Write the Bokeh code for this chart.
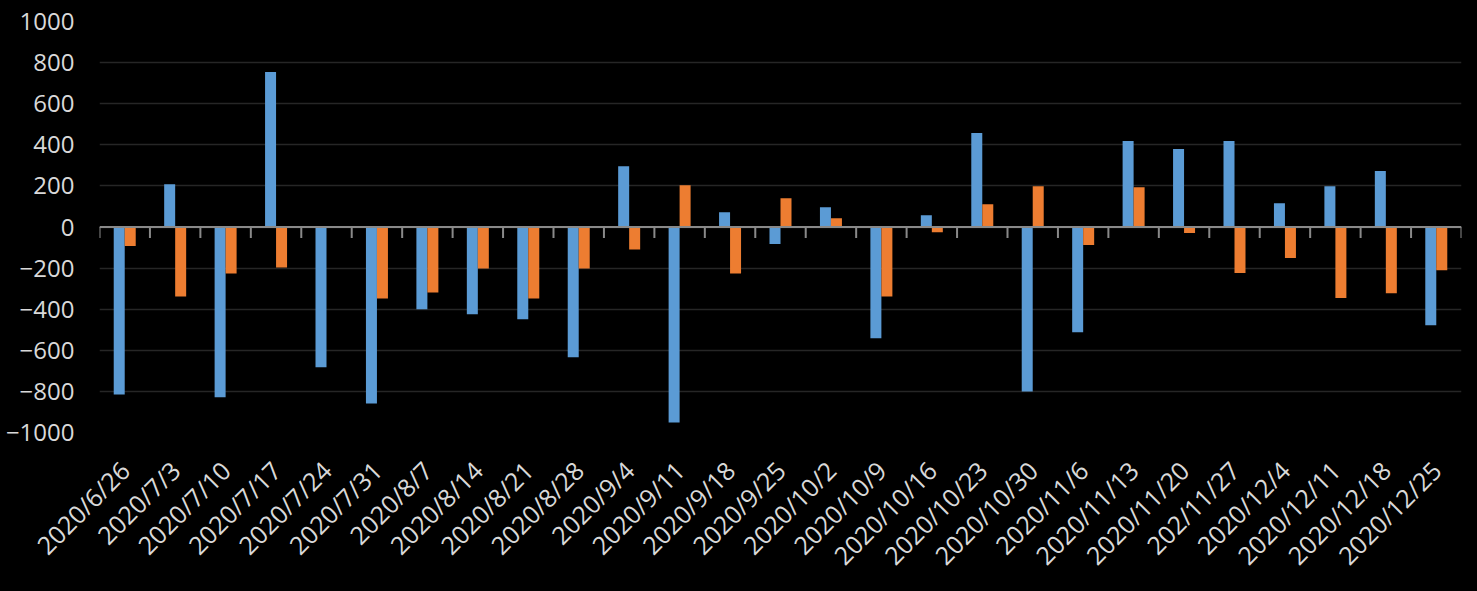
from math import pi

from bokeh.plotting import figure
from bokeh.models import ColumnDataSource, Range1d, FixedTicker, Span
from bokeh.transform import dodge
from bokeh.embed import file_html
from bokeh.resources import INLINE

categories = [
    "2020/6/26", "2020/7/3", "2020/7/10", "2020/7/17", "2020/7/24", "2020/7/31",
    "2020/8/7", "2020/8/14", "2020/8/21", "2020/8/28", "2020/9/4", "2020/9/11",
    "2020/9/18", "2020/9/25", "2020/10/2", "2020/10/9", "2020/10/16", "2020/10/23",
    "2020/10/30", "2020/11/6", "2020/11/13", "2020/11/20", "202/11/27", "2020/12/4",
    "2020/12/11", "2020/12/18", "2020/12/25",
]
series1 = [
    -815, 208, -829, 754, -683, -859,
    -400, -424, -449, -634, 296, -951,
    72, -83, 96, -541, 57, 457,
    -800, -512, 418, 379, 418, 115,
    198, 272, -478,
]
series2 = [
    -93, -338, -226, -197, 0, -348,
    -319, -202, -348, -202, -109, 203,
    -226, 140, 42, -338, -26, 111,
    198, -88, 193, -29, -224, -151,
    -346, -322, -210,
]
y_ticks = [-1000, -800, -600, -400, -200, 0, 200, 400, 600, 800, 1000]

n = len(categories)
centers = [i + 0.5 for i in range(n)]
bounds = list(range(n + 1))
src = ColumnDataSource(dict(x=centers, cat=categories, s1=series1, s2=series2))
bsrc = ColumnDataSource(dict(x=bounds, y=[0] * len(bounds)))

p = figure(
    x_range=Range1d(0, n), y_range=Range1d(-1000, 1000),
    width=1477, height=591, output_backend="svg", toolbar_location=None,
    min_border_left=99, min_border_right=16, min_border_top=21, min_border_bottom=159,
    background_fill_color="black", border_fill_color="black", outline_line_color=None,
)

bar_w = 0.218
p.vbar(x=dodge("x", -bar_w / 2), top="s1", bottom=0, width=bar_w,
       source=src, fill_color="#5b9bd5", line_color=None)
p.vbar(x=dodge("x", bar_w / 2), top="s2", bottom=0, width=bar_w,
       source=src, fill_color="#ed7d31", line_color=None)

label_color = "#d9d9d9"
font = "Open Sans"

# y axis
p.yaxis.ticker = FixedTicker(ticks=y_ticks)
p.yaxis.axis_line_color = None
p.yaxis.major_tick_line_color = None
p.yaxis.minor_tick_line_color = None
p.yaxis.major_tick_out = 0
p.yaxis.major_label_standoff = 25
p.yaxis.major_label_text_color = label_color
p.yaxis.major_label_text_font = font
p.yaxis.major_label_text_font_size = "24px"

p.ygrid.grid_line_color = "#262626"
p.ygrid.grid_line_width = 1.5
p.xgrid.grid_line_color = None

# category labels
p.xaxis.ticker = FixedTicker(ticks=centers)
p.xaxis.major_label_overrides = {c: lab for c, lab in zip(centers, categories)}
p.xaxis.axis_line_color = None
p.xaxis.major_tick_line_color = None
p.xaxis.minor_tick_line_color = None
p.xaxis.major_tick_out = 0
p.xaxis.major_label_orientation = pi / 4
p.xaxis.major_label_standoff = 33
p.xaxis.major_label_text_color = label_color
p.xaxis.major_label_text_font = font
p.xaxis.major_label_text_font_size = "25px"

# zero axis line with category-boundary tick marks
p.ray(x="x", y="y", length=11, length_units="screen", angle=-pi / 2,
      source=bsrc, line_color="#898989", line_width=2)
p.add_layout(Span(location=0, dimension="width", line_color="#898989", line_width=2))

html = file_html(p, INLINE)
html = html.replace("</head>", "<style>html, body { background-color: #000000; }</style></head>", 1)
open("out.html", "w").write(html)
